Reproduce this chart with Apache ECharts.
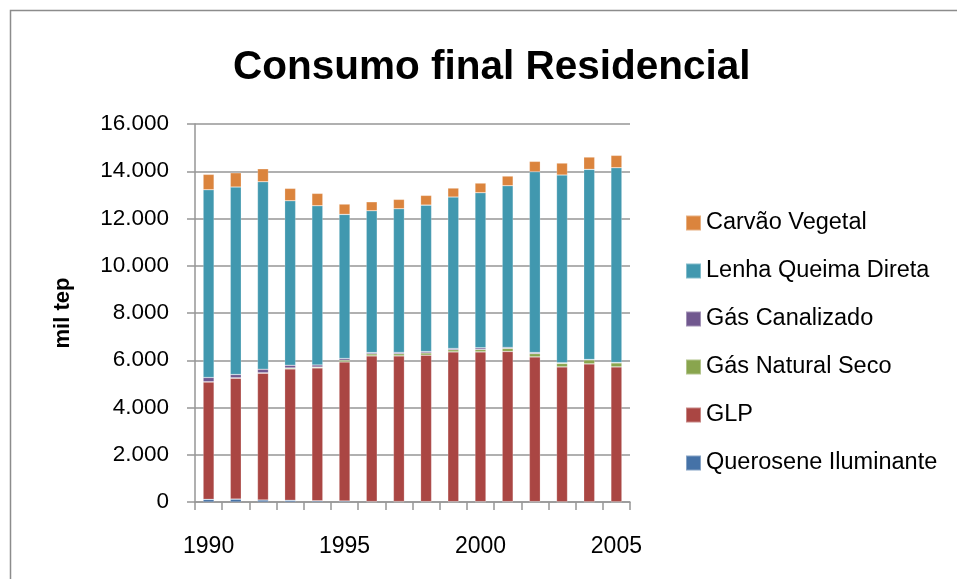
<!DOCTYPE html>
<html>
<head>
<meta charset="utf-8">
<title>Consumo final Residencial</title>
<script src="https://cdn.jsdelivr.net/npm/echarts@6/dist/echarts.min.js"></script>
<style>
  html, body { margin: 0; padding: 0; background: #fff; }
  #chart { width: 957px; height: 579px; }
</style>
</head>
<body>
<div id="chart"></div>
<script>
  // anos (categorias do eixo x)
  var years = ['1990', '1991', '1992', '1993', '1994', '1995', '1996', '1997',
    '1998', '1999', '2000', '2001', '2002', '2003', '2004', '2005']

  // valores em mil tep
  var querosene = [110, 120, 85, 70, 50, 45, 20, 20, 15, 15, 15, 15, 15, 10, 10, 10]
  var glp = [4970, 5120, 5367, 5564, 5626, 5885, 6165, 6165, 6199, 6339, 6339, 6356, 6127, 5709, 5836, 5709]
  var gasNatural = [10, 15, 15, 40, 35, 70, 85, 90, 95, 90, 100, 130, 140, 150, 170, 170]
  var gasCanalizado = [180, 140, 155, 115, 90, 75, 55, 55, 60, 55, 70, 40, 45, 20, 15, 15]
  var lenha = [7946, 7936, 7933, 6961, 6738, 6099, 6002, 6082, 6199, 6408, 6566, 6845, 7652, 7950, 8049, 8244]
  var carvao = [653, 605, 551, 526, 525, 437, 381, 398, 411, 382, 410, 411, 440, 508, 522, 525]

  var yTicks = [0, 2000, 4000, 6000, 8000, 10000, 12000, 14000, 16000]

  var fontFamily = 'Liberation Sans, Arial, sans-serif'
  var gridColor = '#969696'

  function milhar (v) {
    return String(v).replace(/\B(?=(\d{3})+(?!\d))/g, '.')
  }

  function barra (name, data, color) {
    return {
      name: name,
      type: 'bar',
      stack: 'total',
      barWidth: 11,
      data: data,
      itemStyle: {
        color: color,
        borderColor: 'rgba(255,255,255,0.35)',
        borderWidth: 0.6
      }
    }
  }

  var chart = echarts.init(document.getElementById('chart'), null, {renderer: 'canvas'})
  chart.setOption({
    backgroundColor: '#fff',
    animation: false,
    textStyle: {fontFamily: fontFamily},
    graphic: [{
      type: 'rect',
      shape: {x: 10.5, y: 10.5, width: 1000, height: 1000},
      style: {fill: 'none', stroke: '#8c8c8c', lineWidth: 1.5},
      silent: true
    }],
    title: {
      text: 'Consumo final Residencial',
      left: 228,
      top: 42,
      textStyle: {
        fontFamily: fontFamily,
        fontSize: 40.5,
        fontWeight: 'bold',
        color: '#000'
      }
    },
    legend: {
      orient: 'vertical',
      left: 680,
      top: 206,
      itemWidth: 15,
      itemHeight: 15,
      itemGap: 24,
      icon: 'rect',
      textStyle: {fontFamily: fontFamily, fontSize: 23.5, color: '#000'},
      data: ['Carvão Vegetal', 'Lenha Queima Direta', 'Gás Canalizado',
        'Gás Natural Seco', 'GLP', 'Querosene Iluminante']
    },
    grid: {
      left: 195,
      right: 327,
      top: 124,
      bottom: 77,
      containLabel: false
    },
    xAxis: {
      type: 'category',
      data: years,
      boundaryGap: true,
      axisLine: {show: true, lineStyle: {color: gridColor, width: 1.5}},
      axisTick: {show: true, interval: 0, length: 8, inside: false, lineStyle: {color: gridColor, width: 1.5}},
      axisLabel: {
        interval: 4,
        margin: 33,
        fontFamily: fontFamily,
        fontSize: 23,
        color: '#000'
      },
      splitLine: {show: false}
    },
    yAxis: {
      type: 'value',
      min: yTicks[0],
      max: yTicks[yTicks.length - 1],
      interval: 2000,
      name: 'mil tep',
      nameLocation: 'middle',
      nameGap: 121,
      nameTextStyle: {fontFamily: fontFamily, fontSize: 22, fontWeight: 'bold', color: '#000'},
      axisLine: {show: true, lineStyle: {color: gridColor, width: 1.5}},
      axisTick: {show: true, length: 8, lineStyle: {color: gridColor, width: 1.5}},
      axisLabel: {
        margin: 26,
        fontFamily: fontFamily,
        fontSize: 22.5,
        color: '#000',
        formatter: function (v) { return milhar(v) }
      },
      splitLine: {show: true, lineStyle: {color: gridColor, width: 1.5}}
    },
    series: [
      barra('Querosene Iluminante', querosene, '#4572A7'),
      barra('GLP', glp, '#AA4643'),
      barra('Gás Natural Seco', gasNatural, '#89A54E'),
      barra('Gás Canalizado', gasCanalizado, '#71588F'),
      barra('Lenha Queima Direta', lenha, '#4198AF'),
      barra('Carvão Vegetal', carvao, '#DB843D')
    ]
  })
</script>
</body>
</html>
